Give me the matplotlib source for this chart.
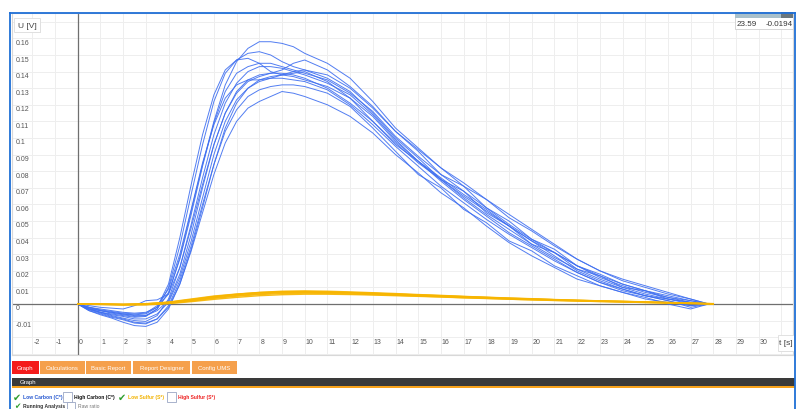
import matplotlib.pyplot as plt
import matplotlib.transforms as mtransforms
from matplotlib.patches import Rectangle
from matplotlib.lines import Line2D

plt.rcParams['font.family'] = ['Liberation Sans', 'DejaVu Sans']

# Low Carbon (C*) runs, U in mV, sampled on t_carbon [s]
t_carbon = [0, 0.5, 1, 1.5, 2, 2.5, 3, 3.5, 4, 4.5, 5, 5.5, 6, 6.5, 7, 7.5, 8, 8.5, 9, 9.5,
            10, 11, 12, 13, 14, 15, 16, 17, 18, 19, 20, 21, 22, 23, 24, 25, 26, 27, 27.8]
lc1 = [0, -2, -3, -4, -5, -5.5, -5, -2, 6, 28, 56, 84, 110, 132, 146, 154, 158, 158, 157, 155,
       151, 145, 136, 122, 106, 94, 82, 73, 63, 52, 44, 35, 27, 20, 14, 10, 6, 3, 0]
lc2 = [0, -3, -5, -6, -7, -8, -7.5, -3, 10, 35, 66, 96, 122, 139, 147, 151, 152, 150, 146, 143,
       141, 136, 128, 115, 100, 88, 75, 68, 55, 47, 36, 31, 21, 17, 10, 8, 3, 1, 0]
lc3 = [0, -3, -4, -5, -6, -6.5, -6, -2, 12, 40, 72, 102, 126, 141, 147, 148, 145, 140, 138, 139,
       140, 134, 124, 110, 96, 86, 76, 66, 57, 47, 38, 29, 20, 14, 9, 5, 2, -1, 0]
lc4 = [0, -2, -4, -5, -6, -7, -7, -4, 2, 18, 42, 70, 96, 115, 128, 135, 138, 139, 141, 145,
       147, 141, 131, 119, 104, 92, 78, 71, 58, 50, 39, 33, 23, 18, 12, 8, 5, 2, 0]
lc5 = [0, -4, -6.5, -8.5, -11, -13, -13.5, -11, -3, 12, 32, 55, 78, 97, 110, 118, 122, 125, 128, 127,
       125, 120, 113, 103, 90, 79, 67, 58, 47, 37, 29, 22, 15, 11, 7, 4, 0, -3, 0]
lc6 = [0, -3, -5, -7, -8.5, -10, -10.5, -7, 3, 22, 48, 76, 102, 121, 133, 140, 143, 143, 142, 140,
       138, 133, 126, 114, 99, 86, 74, 63, 53, 43, 35, 27, 19, 13, 8, 5, 3, 1, 0]
lc7 = [0, -1, -2, -2.5, -3, -1, 2, 2.5, 6, 22, 46, 72, 96, 115, 127, 134, 137, 139, 139, 138,
       136, 130, 121, 110, 97, 85, 75, 65, 56, 47, 38, 31, 23, 16, 11, 7, 4, 2, 0]
lc8 = [0, -3, -5, -6.5, -7.5, -9, -9, -6, 1, 16, 38, 64, 90, 110, 123, 130, 134, 136, 136, 135,
       134, 129, 120, 108, 95, 83, 71, 61, 51, 42, 34, 26, 19, 13, 9, 5, 2, -2, 0]
lc9 = [0, -2, -3.5, -4.5, -5.5, -6, -5.5, -1, 9, 30, 57, 85, 108, 124, 132, 135, 135, 136, 138, 140,
       141, 138, 130, 118, 104, 93, 82, 71, 63, 54, 45, 36, 27, 20, 15, 11, 7, 3, 0]
lc10 = [0, -3.5, -5.5, -7.5, -9, -11, -11.5, -9, -1, 14, 35, 60, 84, 104, 117, 125, 129, 131, 132, 132,
        131, 127, 119, 106, 92, 78, 70, 57, 49, 38, 32, 23, 17, 11, 7, 3, 1, -1, 0]
lc11 = [0, -2.5, -4, -5.5, -6.5, -7.5, -7, -3, 7, 27, 54, 83, 109, 128, 139, 143, 145, 145, 143, 141,
        139, 135, 127, 116, 101, 89, 78, 68, 58, 48, 39, 31, 23, 17, 12, 8, 4, 1, 0]
lc12 = [0, -4, -6, -8, -9.5, -11.5, -12, -9, -2, 12, 33, 58, 84, 106, 121, 130, 135, 137, 138, 137,
        135, 131, 124, 113, 98, 86, 75, 64, 54, 45, 36, 28, 21, 15, 10, 6, 3, 0, 0]

# Low Sulfur (S*) runs, U in mV, sampled on t_sulfur [s]
t_sulfur = list(range(0, 29))
ls1 = [0, 0, -0.3, 0, 0.8, 2.5, 4.2, 5.6, 6.6, 7.2, 7.3, 7.1, 6.8, 6.4, 5.9, 5.4, 4.9, 4.4, 3.9,
       3.4, 3.0, 2.6, 2.2, 1.8, 1.5, 1.2, 0.8, 0.5, 0.1]
ls2 = [0, -0.2, -0.5, -0.3, 0.4, 1.8, 3.4, 4.7, 5.7, 6.3, 6.5, 6.4, 6.1, 5.7, 5.3, 4.8, 4.3, 3.8, 3.4,
       2.9, 2.5, 2.1, 1.8, 1.5, 1.2, 0.9, 0.6, 0.3, 0]
ls3 = [0, 0, -0.2, 0.2, 1.2, 3.0, 4.8, 6.0, 6.9, 7.4, 7.5, 7.3, 6.9, 6.5, 6.0, 5.5, 5.0, 4.5, 4.0,
       3.5, 3.1, 2.6, 2.2, 1.9, 1.6, 1.2, 0.9, 0.5, 0.2]
ls4 = [0, -0.3, -0.6, -0.5, 0.2, 1.4, 2.8, 4.0, 5.0, 5.6, 5.9, 5.9, 5.7, 5.4, 5.0, 4.6, 4.2, 3.7, 3.3,
       2.9, 2.5, 2.2, 1.8, 1.5, 1.2, 0.9, 0.6, 0.3, 0]
ls5 = [0, -0.1, -0.4, -0.2, 0.6, 2.1, 3.8, 5.1, 6.1, 6.8, 7.0, 6.9, 6.6, 6.2, 5.7, 5.2, 4.7, 4.2, 3.7,
       3.2, 2.8, 2.4, 2.0, 1.7, 1.4, 1.0, 0.7, 0.4, 0.1]
ls6 = [0, 0, -0.2, 0.1, 1.0, 2.7, 4.5, 5.9, 7.0, 7.7, 7.9, 7.7, 7.3, 6.8, 6.3, 5.7, 5.2, 4.6, 4.1,
       3.6, 3.2, 2.7, 2.3, 1.9, 1.6, 1.3, 0.9, 0.6, 0.2]

x_ticks = list(range(-2, 31))
y_ticks = [k / 100 for k in range(-1, 17)]
tab_names = ["Graph", "Calculations", "Basic Report", "Report Designer", "Config UMS"]
cursor_t, cursor_u = "23.59", "-0.0194"

W, H = 800, 410
fig = plt.figure(figsize=(W / 100, H / 100), dpi=100)


def fx(px):
    return px / W


def fy(py):
    return 1 - py / H


def box(x0, y0, x1, y1, **kw):
    fig.add_artist(Rectangle((fx(x0), fy(y1)), (x1 - x0) / W, (y1 - y0) / H,
                             transform=fig.transFigure, **kw))


def label(px, py, s, **kw):
    kw.setdefault('va', 'center')
    fig.text(fx(px), fy(py), s, **kw)


# plot area: t=0 at 77.7 px, 22.7 px per second; U=0 at 305 px, 1660 px per volt
ax = fig.add_axes([fx(12), fy(356), (793 - 12) / W, (356 - 14) / H])
ax.set_xlim((12 - 77.7) / 22.7, (793 - 77.7) / 22.7)
ax.set_ylim((305 - 356) / 1660, (305 - 14) / 1660)
ax.set_xticks([])
ax.set_yticks([])
for s in ax.spines.values():
    s.set_color('#d8d8d8')
    s.set_linewidth(0.8)

for t in range(-2, 32):
    ax.axvline(t, color='#eeeeee', lw=0.7, zorder=0)
for k in range(-3, 18):
    ax.axhline(k / 100, color='#eeeeee', lw=0.7, zorder=0)
ax.axhline(0, color='#6f6f6f', lw=0.9, zorder=1)
ax.axvline(0, color='#6f6f6f', lw=0.9, zorder=1)

for run in [lc1, lc2, lc3, lc4, lc5, lc6, lc7, lc8, lc9, lc10, lc11, lc12]:
    ax.plot(t_carbon, [v / 1000 for v in run], color='#3f6ff0', lw=0.7, alpha=0.9, zorder=2)
for run in [ls1, ls2, ls3, ls4, ls5, ls6]:
    ax.plot(t_sulfur, [v / 1000 for v in run], color='#f7b500', lw=1.0, alpha=0.9, zorder=3)

xtr = mtransforms.offset_copy(
    mtransforms.blended_transform_factory(ax.transData, ax.transAxes), fig=fig, x=1, y=0, units='dots')
for t in x_ticks:
    ax.text(t, 13 / 342, str(t), transform=xtr, ha='left', va='center', fontsize=5, color='#555555')
ytr = mtransforms.offset_copy(
    mtransforms.blended_transform_factory(ax.transAxes, ax.transData), fig=fig, x=0, y=-4, units='dots')
for v in y_ticks:
    ax.text(4 / 781, v, f"{round(v, 2):g}", transform=ytr, ha='left', va='center',
            fontsize=5, color='#555555')

# axis title boxes
box(15, 20, 41, 34, facecolor='#e6e6e6', edgecolor='none')
box(14, 19, 40, 33, facecolor='white', edgecolor='#dddddd', lw=0.6)
label(27, 26, "U [V]", ha='center', fontsize=6, color='#444444')
box(779, 337, 795, 353, facecolor='#e6e6e6', edgecolor='none')
box(778, 336, 794, 352, facecolor='white', edgecolor='#dddddd', lw=0.6)
label(786, 344, "t [s]", ha='center', fontsize=6, color='#444444')

# cursor readout
box(735, 13, 793, 30, facecolor='white', edgecolor='#cfcfcf', lw=0.6)
box(735, 13, 793, 19, facecolor='#a8c0cb', edgecolor='none')
box(781, 13, 793, 19, facecolor='#6a777d', edgecolor='none')
label(737, 25, cursor_t, ha='left', fontsize=5.8, color='#333333')
label(793, 25, cursor_u, ha='right', fontsize=5.8, color='#333333')

# window frame
for xs, ys in [([9.5, 9.5], [14, 410]), ([9.5, 795], [14, 14]), ([794.5, 794.5], [14, 410])]:
    fig.add_artist(Line2D([fx(x) for x in xs], [fy(y) for y in ys], color='#1f6fd6', lw=1.3,
                          transform=fig.transFigure))

# tabs
tab_edges = [(12, 39), (40, 85), (86, 131), (133, 190), (192, 237)]
for name, (x0, x1) in zip(tab_names, tab_edges):
    box(x0, 362, x1, 375, facecolor='#f41c1c' if name == "Graph" else '#f5a04c', edgecolor='none')
    label((x0 + x1) / 2, 368.5, name, ha='center', fontsize=4.3, color='white')

box(12, 379, 795, 387, facecolor='#3a3a3a', edgecolor='none')
box(12, 387, 795, 389, facecolor='#f7a21b', edgecolor='none')
label(20, 383, "Graph", ha='left', fontsize=4.3, color='white')

# series check boxes
checks = [(12, "Low Carbon (C*)", '#2456d0', True), (63, "High Carbon (C*)", '#111111', False),
          (117, "Low Sulfur (S*)", '#f2b200', True), (167, "High Sulfur (S*)", '#ee2222', False)]
for x0, name, col, on in checks:
    if on:
        label(x0 + 5, 398, "\u2714", ha='center', fontsize=7, color='#2f9e2f', family='DejaVu Sans')
    else:
        box(x0, 393, x0 + 9, 403, facecolor='white', edgecolor='#9aa6c4', lw=0.6)
    label(x0 + 11, 398, name, ha='left', fontsize=3.6, fontweight='bold', color=col)

label(17, 406.5, "\u2714", ha='center', fontsize=5.5, color='#2f9e2f', family='DejaVu Sans')
label(23, 406.5, "Running Analysis", ha='left', fontsize=3.6, fontweight='bold', color='#333333')
box(67, 403, 75, 411, facecolor='white', edgecolor='#9aa6c4', lw=0.6)
label(78, 406.5, "Raw ratio", ha='left', fontsize=3.6, color='#777777')

fig.savefig('out.png', dpi=100)
